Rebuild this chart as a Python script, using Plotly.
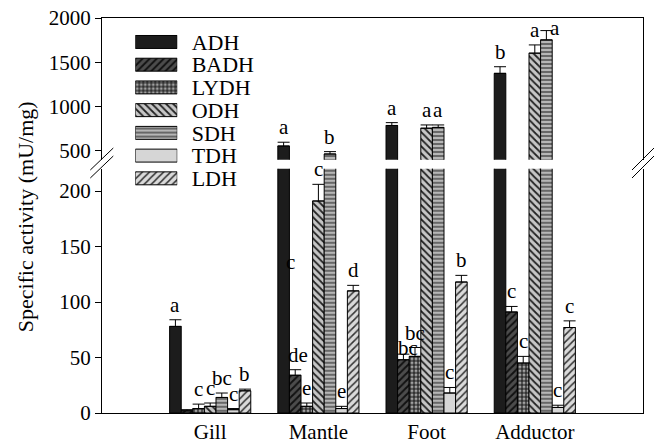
import plotly.graph_objects as go

# ---------------- data ----------------
groups = ["Gill", "Mantle", "Foot", "Adductor"]
enzymes = ["ADH", "BADH", "LYDH", "ODH", "SDH", "TDH", "LDH"]

ADH = [78, 555, 787, 1375]
ADH_err = [6, 43, 32, 75]
BADH = [2, 34, 48, 91]
BADH_err = [1, 5, 5, 5]
LYDH = [4, 6, 51, 45]
LYDH_err = [4, 3, 8, 6]
ODH = [6, 191, 756, 1603]
ODH_err = [3, 15, 37, 93]
SDH = [14, 465, 765, 1753]
SDH_err = [4, 27, 28, 105]
TDH = [3, 4, 18, 5]
TDH_err = [1, 2, 5, 2]
LDH = [20, 110, 118, 77]
LDH_err = [1.5, 5, 6, 6]

values = {"ADH": ADH, "BADH": BADH, "LYDH": LYDH, "ODH": ODH,
          "SDH": SDH, "TDH": TDH, "LDH": LDH}
errors = {"ADH": ADH_err, "BADH": BADH_err, "LYDH": LYDH_err, "ODH": ODH_err,
          "SDH": SDH_err, "TDH": TDH_err, "LDH": LDH_err}

# significance letters, per group in enzyme order
letters_gill = ["a", "", "c", "c", "bc", "c", "b"]
letters_mantle = ["a", "de", "e", "c", "b", "e", "d"]
letters_foot = ["a", "bc", "bc", "a", "a", "c", "b"]
letters_adductor = ["b", "c", "c", "a", "a", "c", "c"]
letters = [letters_gill, letters_mantle, letters_foot, letters_adductor]

lower_ticks = [0, 50, 100, 150, 200]
upper_ticks = [500, 1000, 1500, 2000]
lower_range = [0, 220]
upper_range = [400, 2000]

# ---------------- styling ----------------
FONT = "Liberation Serif"
W, H = 659, 444
L, R, T, B = 101.7, 643.0, 18.0, 413.0


def pxx(p):
    return (p - L) / (R - L)


def pxy(p):
    return (B - p) / (B - T)


styles = {
    "ADH": dict(color="#1c1c1c", shape="", bg="#1c1c1c", fg="#1c1c1c", size=4, sol=0.3),
    "BADH": dict(color="#444444", shape="/", bg="#4c4c4c", fg="#111111", size=5, sol=0.4),
    "LYDH": dict(color="#444444", shape=".", bg="#2e2e2e", fg="#a0a0a0", size=4, sol=0.45),
    "ODH": dict(color="#c0c0c0", shape="\\", bg="#c6c6c6", fg="#222222", size=5, sol=0.35),
    "SDH": dict(color="#b0b0b0", shape="-", bg="#b6b6b6", fg="#333333", size=4, sol=0.3),
    "TDH": dict(color="#d6d6d6", shape="", bg="#d6d6d6", fg="#d6d6d6", size=4, sol=0.3),
    "LDH": dict(color="#d6d6d6", shape="/", bg="#dadada", fg="#333333", size=5, sol=0.3),
}

xpos = [1, 2, 3, 4]
bargap = 0.25
bw = (1 - bargap) / len(enzymes)

fig = go.Figure()


def marker_for(name):
    s = styles[name]
    m = dict(color=s["color"], line=dict(color="black", width=1))
    if s["shape"]:
        m["pattern"] = dict(shape=s["shape"], bgcolor=s["bg"], fgcolor=s["fg"],
                            size=s["size"], solidity=s["sol"])
    return m


for xa, ya in (("x", "y"), ("x2", "y2")):
    for name in enzymes:
        fig.add_trace(go.Bar(
            x=xpos, y=values[name], name=name, xaxis=xa, yaxis=ya,
            marker=marker_for(name), showlegend=False,
            error_y=dict(type="data", array=errors[name],
                         arrayminus=[0] * len(xpos), symmetric=False,
                         color="black", thickness=1, width=6),
        ))

# legend drawn as a small bar subplot (one swatch per enzyme)
for name in enzymes:
    fig.add_trace(go.Bar(
        x=[1], y=[name], orientation="h", xaxis="x3", yaxis="y3",
        width=0.57, offsetgroup="legend", showlegend=False, hoverinfo="skip",
        marker=marker_for(name),
    ))

# letter annotations
special = {("Foot", "BADH"): (5, -9), ("Adductor", "SDH"): (9, -12),
           ("Mantle", "BADH"): (3, 0)}
annotations = []
for gi, g in enumerate(groups):
    for ei, name in enumerate(enzymes):
        txt = letters[gi][ei]
        if not txt:
            continue
        top = values[name][gi] + errors[name][gi]
        xs, ys = special.get((g, name), (0, 0))
        upper = top > lower_range[1]
        annotations.append(dict(
            x=xpos[gi] + (ei - 3) * bw, y=top,
            xref="x2" if upper else "x", yref="y2" if upper else "y",
            text=txt, showarrow=False, xanchor="center", yanchor="bottom",
            xshift=xs, yshift=1 + ys,
            font=dict(family=FONT, size=21, color="black"),
        ))

# stray, partly hidden letter next to Mantle ADH
annotations.append(dict(
    x=xpos[1] - 3 * bw, y=136, xref="x", yref="y", text="c", showarrow=False,
    xanchor="center", yanchor="middle", xshift=7,
    font=dict(family=FONT, size=21, color="black")))

# y-axis title
annotations.append(dict(
    x=pxx(25), y=pxy(217), xref="paper", yref="paper", text="Specific activity (mU/mg)",
    textangle=-90, showarrow=False, xanchor="center", yanchor="middle",
    font=dict(family=FONT, size=22, color="black")))

# axis break marks
shapes = []
for (x0, y0, x1, y1) in [(90, 170, 113, 148), (90, 178, 113, 156),
                         (632, 170, 654, 148), (632, 178, 654, 156)]:
    shapes.append(dict(type="line", xref="paper", yref="paper",
                       x0=pxx(x0), y0=pxy(y0), x1=pxx(x1), y1=pxy(y1),
                       line=dict(color="black", width=1)))

lower_top = (lower_range[1] - lower_range[0]) * 1.11 / (B - T)
upper_bottom = 1 - (upper_range[1] - upper_range[0]) * 0.0886 / (B - T)

tickfont = dict(family=FONT, size=21, color="black")
fig.update_layout(
    template="none",
    width=W, height=H,
    margin=dict(l=L, r=W - R, t=T, b=H - B, pad=0, autoexpand=False),
    paper_bgcolor="white", plot_bgcolor="white",
    barmode="group", bargap=bargap, bargroupgap=0,
    showlegend=False,
    font=dict(family=FONT, size=20, color="black"),
    xaxis=dict(domain=[0, 1], range=[0, 5], anchor="y", tickvals=xpos, ticktext=groups,
               showline=True, linecolor="black", linewidth=1, ticks="",
               showgrid=False, zeroline=False, automargin=False,
               tickfont=dict(family=FONT, size=21, color="black")),
    yaxis=dict(domain=[0, lower_top], range=lower_range, tickvals=lower_ticks,
               showline=True, mirror=True, linecolor="black", linewidth=1,
               ticks="outside", ticklen=6, tickcolor="black", showgrid=False,
               zeroline=False, tickfont=tickfont, anchor="x", automargin=False),
    xaxis2=dict(domain=[0, 1], range=[0, 5], anchor="y2", matches="x", side="top",
                showline=True, linecolor="black", linewidth=1, showticklabels=False,
                ticks="", showgrid=False, zeroline=False, automargin=False),
    yaxis2=dict(domain=[upper_bottom, 1], range=upper_range, tickvals=upper_ticks,
                showline=True, mirror=True, linecolor="black", linewidth=1,
                ticks="outside", ticklen=6, tickcolor="black", showgrid=False,
                zeroline=False, tickfont=tickfont, anchor="x2", automargin=False),
    xaxis3=dict(domain=[pxx(135), pxx(177)], range=[0, 1], anchor="y3",
                visible=False, fixedrange=True, automargin=False),
    yaxis3=dict(domain=[pxy(189.7), pxy(30.6)], anchor="x3", side="right",
                type="category", categoryorder="array", categoryarray=enzymes,
                tickmode="array", tickvals=enzymes, ticktext=enzymes,
                range=[len(enzymes) - 0.5, -0.5],
                showline=False, showgrid=False, zeroline=False, ticks="outside",
                ticklen=9, tickcolor="rgba(0,0,0,0)", automargin=False,
                tickfont=dict(family=FONT, size=22, color="black")),
    annotations=annotations,
    shapes=shapes,
)

fig.write_html(
    "out.html",
    config={"displayModeBar": False},
    post_script="document.body.style.margin='0px';document.body.style.padding='0px';",
)
